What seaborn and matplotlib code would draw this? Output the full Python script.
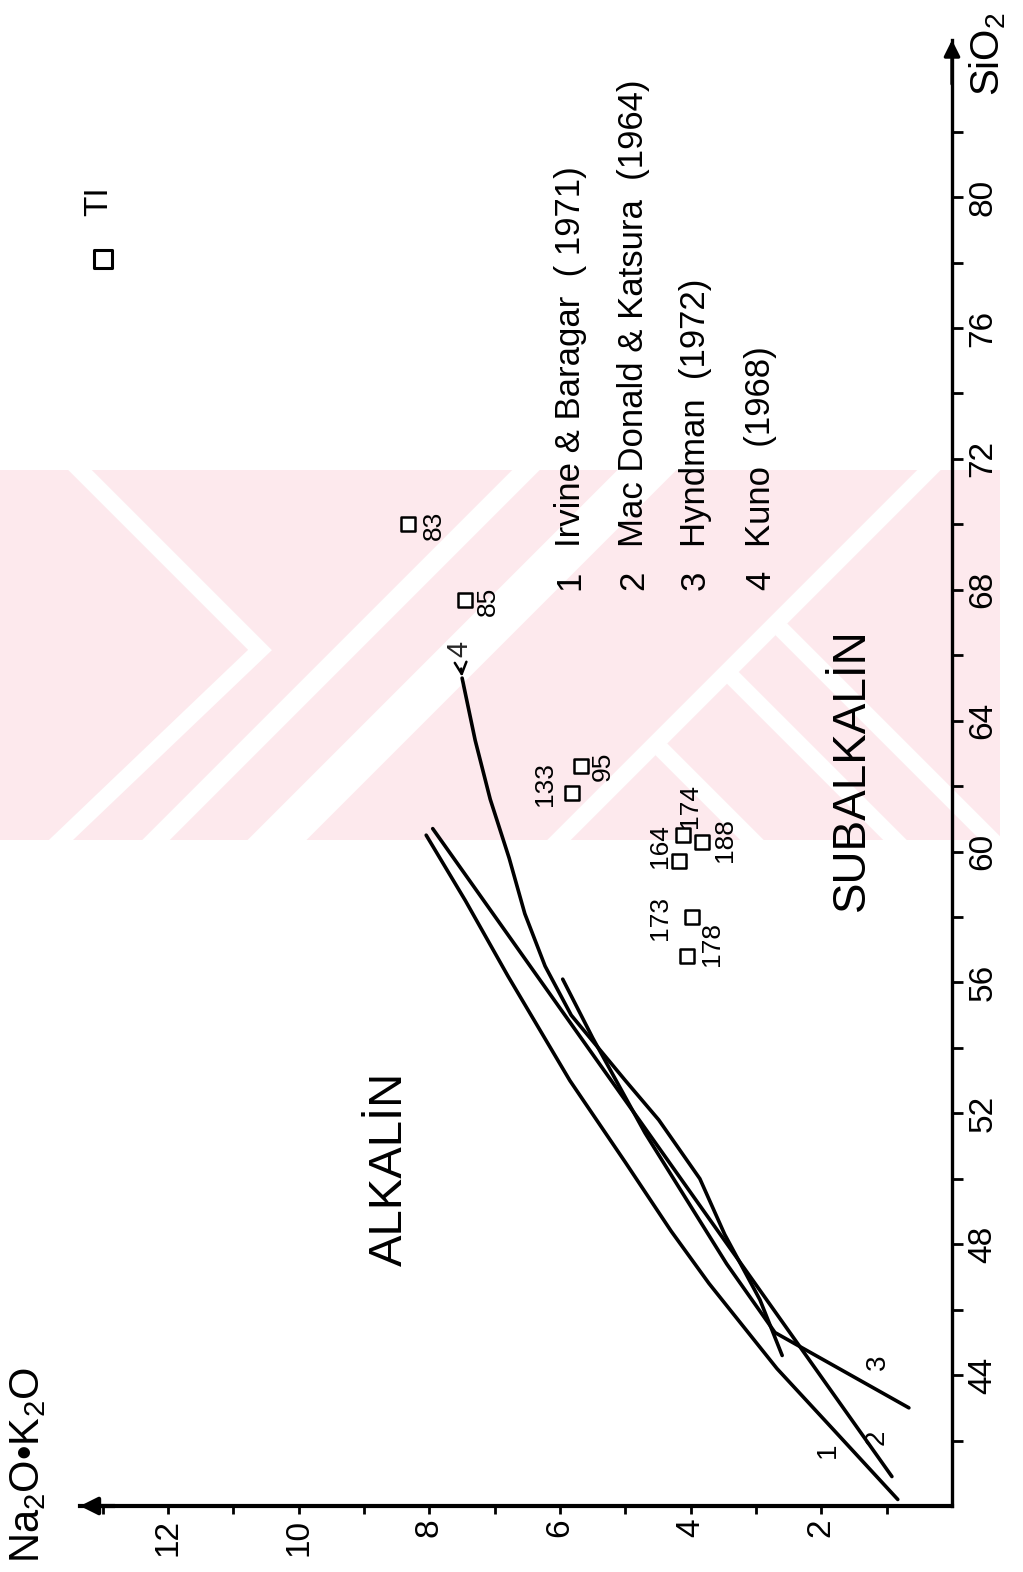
import matplotlib
matplotlib.use("Agg")
import matplotlib.pyplot as plt
import seaborn as sns
from matplotlib import font_manager
from matplotlib.patches import Rectangle

# ---- boundary curves: SiO2 (wt%) and Na2O+K2O (wt%) ----
irvine_sio2 = [40.2, 42.3, 44.2, 46.8, 48.4, 50.5, 53.0, 56.2, 58.5, 60.5]
irvine_alk = [0.83, 1.80, 2.68, 3.72, 4.30, 5.00, 5.85, 6.80, 7.45, 8.05]

macdonald_sio2 = [40.9, 60.7]
macdonald_alk = [0.92, 7.95]

hyndman_sio2 = [43.0, 45.3, 47.4, 51.4, 54.3, 56.1]
hyndman_alk = [0.66, 2.71, 3.45, 4.70, 5.50, 5.96]

kuno_sio2 = [44.6, 46.3, 48.3, 50.0, 51.8, 53.0, 55.0, 56.5, 58.1, 59.8, 61.6, 63.4, 65.3]
kuno_alk = [2.60, 2.94, 3.48, 3.86, 4.49, 5.00, 5.83, 6.23, 6.54, 6.78, 7.07, 7.30, 7.50]

# ---- samples ----
sample_ids = ["83", "85", "133", "95", "164", "174", "188", "173", "178"]
sample_sio2 = [70.0, 67.7, 61.8, 62.6, 59.7, 60.5, 60.3, 58.0, 56.8]
sample_alk = [8.33, 7.46, 5.82, 5.68, 4.18, 4.12, 3.83, 3.98, 4.06]

ti_sio2 = [78.1]
ti_alk = [13.0]

# ---- axis ticks ----
alk_major = [2, 4, 6, 8, 10, 12]
alk_minor = [1, 3, 5, 7, 9, 11, 13]
sio2_major = [44, 48, 52, 56, 60, 64, 68, 72, 76, 80]
sio2_minor = [42, 46, 50, 54, 58, 62, 66, 70, 74, 78, 82]

legend_nums = ["1", "2", "3", "4"]
legend_names = ["Irvine & Baragar  ( 1971)", "Mac Donald & Katsura  (1964)",
                "Hyndman  (1972)", "Kuno  (1968)"]

# ---- style ----
sns.set_theme(style="white")
available = {f.name for f in font_manager.fontManager.ttflist}
NARROW = "Liberation Sans Narrow" if "Liberation Sans Narrow" in available else "Liberation Sans"
plt.rcParams["font.family"] = ["Liberation Sans", "DejaVu Sans"]
plt.rcParams["mathtext.fontset"] = "custom"
plt.rcParams["mathtext.rm"] = "Liberation Sans"
plt.rcParams["mathtext.it"] = "Liberation Sans:italic"

W_PX, H_PX = 1023, 1572
fig = plt.figure(figsize=(W_PX / 100, H_PX / 100), dpi=100)
fig.patch.set_facecolor("white")

# ---- faint page stamp behind the diagram (pixel space of the page) ----
PINK = "#fde9ed"
bg = fig.add_axes([0, 0, 1, 1], zorder=0)
bg.set_xlim(0, W_PX)
bg.set_ylim(H_PX, 0)
bg.axis("off")
stamp = Rectangle((0, 470), 1000, 370, facecolor=PINK, edgecolor="none")
bg.add_patch(stamp)
gaps = [
    ([60, 260, 40], [450, 650, 860], 12),          # left chevron
    ([1016, 136], [-20, 860], 14),                 # diagonal gaps, x + y = const
    ([1137, 257], [-20, 860], 30),
    ([1419, 539], [-20, 860], 12),
    ([655, 772], [743, 860], 12),                  # branches off the long diagonal
    ([727, 916], [672, 861], 12),
    ([775, 1012], [623, 860], 12),
]
for gx, gy, w in gaps:
    ln, = bg.plot(gx, gy, color="white", linewidth=w, solid_capstyle="butt",
                  solid_joinstyle="miter")
    ln.set_clip_path(stamp)

# the diagram is drawn turned a quarter turn: SiO2 runs upward, alkalis run leftward
x0, x1, ytop, ybot = 80, 952, 40, 1506
ax = fig.add_axes([x0 / W_PX, 1 - ybot / H_PX, (x1 - x0) / W_PX, (ybot - ytop) / H_PX],
                  zorder=1)
ax.set_facecolor("none")
ax.set_xlim(13.35, 0)
ax.set_ylim(40, 84.8)

# boundary lines
for s, a in [(irvine_sio2, irvine_alk), (macdonald_sio2, macdonald_alk),
             (hyndman_sio2, hyndman_alk), (kuno_sio2, kuno_alk)]:
    sns.lineplot(x=a, y=s, sort=False, estimator=None, color="black",
                 linewidth=2.6, ax=ax, legend=False)

# samples
sns.scatterplot(x=sample_alk, y=sample_sio2, marker="s", s=95, color="white",
                edgecolor="black", linewidth=1.8, ax=ax, zorder=5, legend=False)
sns.scatterplot(x=ti_alk, y=ti_sio2, marker="s", s=150, color="white",
                edgecolor="black", linewidth=2.2, ax=ax, zorder=5, legend=False)

label_offsets = [(19, -1), (17, -1), (-19, 6), (16, 0), (-14, 11),
                 (5, 21), (17, 1), (-23, -1), (18, 9)]
for sid, a, s, off in zip(sample_ids, sample_alk, sample_sio2, label_offsets):
    ax.annotate(sid, (a, s), xytext=off, textcoords="offset points",
                rotation=90, ha="center", va="center", fontsize=19,
                family=NARROW, color="black")
ax.annotate("TI", (ti_alk[0], ti_sio2[0]), xytext=(-3, 42), textcoords="offset points",
            rotation=90, ha="center", va="center", fontsize=24, color="black")

# curve numbers
curve_tags = [("1", 1.90, 41.7), ("2", 1.15, 42.1), ("3", 1.13, 44.4)]
for t, a, s in curve_tags:
    ax.text(a, s, t, rotation=90, ha="center", va="center", fontsize=20,
            family=NARROW, color="black")
ax.annotate("4", (kuno_alk[-1], kuno_sio2[-1]), xytext=(-2, 21), textcoords="offset points",
            rotation=90, ha="center", va="center", fontsize=21, family=NARROW,
            arrowprops=dict(arrowstyle="->", lw=1.8, color="black", shrinkA=6, shrinkB=1))

# legend of the boundary sources
legend_base = [5.70, 4.73, 3.78, 2.79]
for n, name, b in zip(legend_nums, legend_names, legend_base):
    ax.text(b, 68.3, n, rotation=90, rotation_mode="anchor", ha="center",
            va="baseline", fontsize=25, color="black")
    ax.text(b, 69.3, name, rotation=90, rotation_mode="anchor", ha="left",
            va="baseline", fontsize=25, color="black")

# field names
ax.text(8.6, 50.3, "ALKALİN", rotation=90, ha="center", va="center",
        fontsize=34, color="black")
ax.text(1.53, 62.5, "SUBALKALİN", rotation=90, ha="center", va="center",
        fontsize=33, color="black")

# axes: only the alkali (bottom) and SiO2 (right) lines, with arrowheads
for side in ["top", "left"]:
    ax.spines[side].set_visible(False)
ax.spines["bottom"].set_linewidth(3.0)
ax.spines["right"].set_linewidth(2.4)
for side in ["bottom", "right"]:
    ax.spines[side].set_color("black")

ax.set_xticks(alk_major)
ax.set_xticks(alk_minor, minor=True)
ax.set_xticklabels([str(v) for v in alk_major])
ax.yaxis.tick_right()
ax.set_yticks(sio2_major)
ax.set_yticks(sio2_minor, minor=True)
ax.set_yticklabels([str(v) for v in sio2_major])
ax.tick_params(axis="x", which="both", direction="out", length=6, width=2,
               color="black", bottom=True, top=False, pad=3)
ax.tick_params(axis="x", labelsize=24, labelrotation=90, labelcolor="black")
ax.tick_params(axis="y", which="both", direction="out", length=8, width=2,
               color="black", right=True, left=False, labelright=True,
               labelleft=False, pad=3)
ax.tick_params(axis="y", labelsize=24, labelrotation=90, labelcolor="black")
for lab in ax.get_yticklabels():
    lab.set_va("center")
for lab in ax.get_xticklabels() + ax.get_yticklabels():
    lab.set_family(NARROW)

ax.annotate("", xy=(0, 0), xytext=(0.04, 0), xycoords="axes fraction",
            arrowprops=dict(arrowstyle="-|>", color="black", lw=3.0, mutation_scale=26,
                            shrinkA=0, shrinkB=0))
ax.annotate("", xy=(1, 1), xytext=(1, 0.97), xycoords="axes fraction",
            arrowprops=dict(arrowstyle="-|>", color="black", lw=2.4, mutation_scale=24,
                            shrinkA=0, shrinkB=0))

ax.set_xlabel("")
ax.set_ylabel("")
fig.text(28 / W_PX, 1 - 1563 / H_PX, "Na$_2$O•K$_2$O", rotation=90, ha="center",
         va="bottom", fontsize=30, color="black")
fig.text(988 / W_PX, 1 - 96 / H_PX, "SiO$_2$", rotation=90, ha="center",
         va="bottom", fontsize=29, color="black")

fig.savefig("out.png", dpi=100, facecolor="white")
